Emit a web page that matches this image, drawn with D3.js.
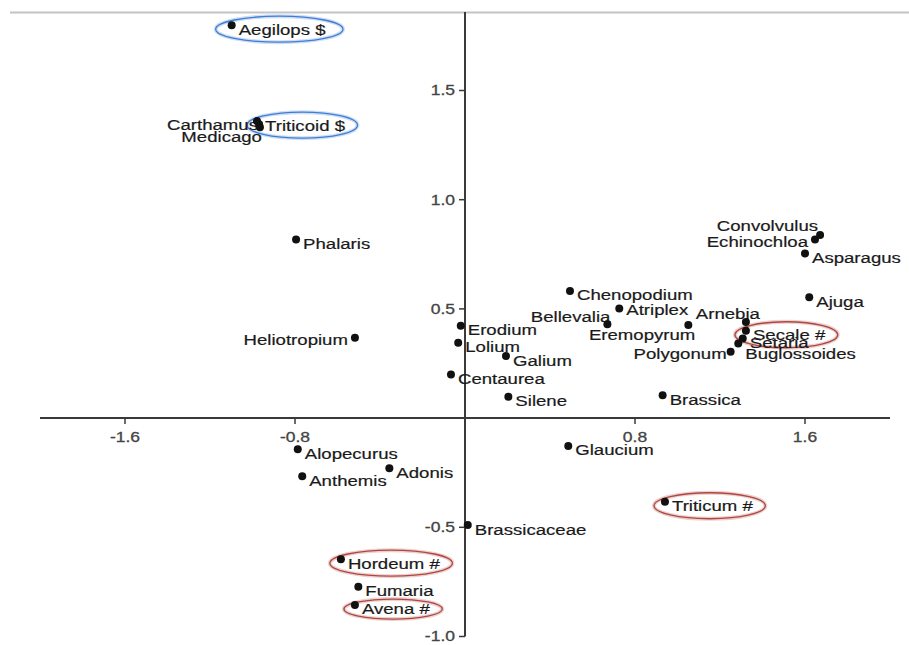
<!DOCTYPE html>
<html>
<head>
<meta charset="utf-8">
<script src="https://cdn.jsdelivr.net/npm/d3@7"></script>
<style>
  body { margin: 0; background: #fff; }
  svg { display: block; font-family: "Liberation Sans", Arial, sans-serif; }
</style>
</head>
<body>
<div id="vis"></div>
<script>
const FRAME_WIDTH = 909;
const FRAME_HEIGHT = 645;

// taxa names and their ordination scores (axis 1, axis 2)
const names = ["Aegilops $", "Carthamus", "Triticoid $", "Medicago", "Phalaris", "Heliotropium",
  "Erodium", "Lolium", "Galium", "Centaurea", "Silene", "Chenopodium", "Atriplex", "Bellevalia",
  "Eremopyrum", "Arnebia", "Secale #", "Setaria", "Buglossoides", "Polygonum", "Convolvulus",
  "Echinochloa", "Asparagus", "Ajuga", "Brassica", "Glaucium", "Triticum #", "Brassicaceae",
  "Hordeum #", "Fumaria", "Avena #", "Alopecurus", "Anthemis", "Adonis"];
const axis1 = [-1.098, -0.979, -0.969, -0.965, -0.795, -0.518,
  -0.020, -0.032, 0.193, -0.066, 0.204, 0.494, 0.726, 0.670,
  1.051, 1.322, 1.322, 1.307, 1.286, 1.250, 1.671,
  1.647, 1.600, 1.620, 0.930, 0.486, 0.941, 0.013,
  -0.584, -0.502, -0.518, -0.787, -0.766, -0.356];
const axis2 = [1.799, 1.360, 1.346, 1.332, 0.818, 0.368,
  0.423, 0.345, 0.284, 0.200, 0.098, 0.582, 0.502, 0.430,
  0.426, 0.440, 0.400, 0.365, 0.342, 0.304, 0.838,
  0.818, 0.754, 0.553, 0.105, -0.128, -0.383, -0.490,
  -0.646, -0.772, -0.856, -0.143, -0.266, -0.230];

const xTicks = [-1.6, -0.8, 0.8, 1.6];
const yTicks = [1.5, 1.0, 0.5, -0.5, -1.0];

// label placement (layout only)
const labelPos = {
  "Carthamus": {anchor: "end", dx: 1, dy: 3},
  "Medicago": {anchor: "end", dx: 2, dy: 9},
  "Triticoid $": {anchor: "start", dx: 6, dy: 1},
  "Heliotropium": {anchor: "end", dx: -7, dy: 2},
  "Convolvulus": {anchor: "end", dx: -2, dy: -10},
  "Echinochloa": {anchor: "end", dx: -7, dy: 2},
  "Bellevalia": {anchor: "end", dx: 3, dy: -8},
  "Eremopyrum": {anchor: "end", dx: 7, dy: 10},
  "Arnebia": {anchor: "end", dx: 14, dy: -8},
  "Polygonum": {anchor: "end", dx: -4, dy: 2},
  "Buglossoides": {anchor: "start", dx: 7, dy: 10},
  "Atriplex": {anchor: "start", dx: 7, dy: 1}
};
const BLUE = "#3f7dd4", RED = "#b0463f";

const data = names.map((n, i) => ({name: n, x: axis1[i], y: axis2[i]}));

const svg = d3.select("#vis").append("svg")
    .attr("width", FRAME_WIDTH)
    .attr("height", FRAME_HEIGHT);

const X_SCALE = d3.scaleLinear().domain([-2, 2]).range([40, 890]);
const Y_SCALE = d3.scaleLinear().domain([-1, 1.5]).range([636.5, 90.5]);

// tick labels use a plain hyphen like the original
const fmt = (t) => t.toFixed(1);

// grey rule at the top
svg.append("line")
    .attr("x1", 10).attr("x2", FRAME_WIDTH)
    .attr("y1", 12.5).attr("y2", 12.5)
    .attr("stroke", "#c4c4c4").attr("stroke-width", 2);

const AXIS_COL = "#3a3a3a";
const x0 = X_SCALE(0), y0 = Y_SCALE(0);

// x axis through the origin
svg.append("line")
    .attr("x1", 40).attr("x2", 890).attr("y1", y0).attr("y2", y0)
    .attr("stroke", AXIS_COL).attr("stroke-width", 2);
// y axis through the origin
svg.append("line")
    .attr("x1", x0).attr("x2", x0).attr("y1", 12).attr("y2", Y_SCALE(-1))
    .attr("stroke", AXIS_COL).attr("stroke-width", 2);

xTicks.forEach(t => {
  svg.append("line")
      .attr("x1", X_SCALE(t)).attr("x2", X_SCALE(t))
      .attr("y1", y0).attr("y2", y0 + 6)
      .attr("stroke", AXIS_COL).attr("stroke-width", 1.5);
  svg.append("text")
      .attr("transform", "translate(" + X_SCALE(t) + "," + (y0 + 19) + ") scale(1.25,1)")
      .attr("text-anchor", "middle").attr("dy", "0.35em")
      .attr("font-size", "14px").attr("fill", "#444")
      .attr("stroke", "#444").attr("stroke-width", 0.3)
      .text(fmt(t));
});

yTicks.forEach(t => {
  svg.append("line")
      .attr("x1", x0 - 6).attr("x2", x0)
      .attr("y1", Y_SCALE(t)).attr("y2", Y_SCALE(t))
      .attr("stroke", AXIS_COL).attr("stroke-width", 1.5);
  svg.append("text")
      .attr("transform", "translate(" + (x0 - 10) + "," + Y_SCALE(t) + ") scale(1.25,1)")
      .attr("text-anchor", "end").attr("dy", "0.35em")
      .attr("font-size", "14px").attr("fill", "#444")
      .attr("stroke", "#444").attr("stroke-width", 0.3)
      .text(fmt(t));
});

const ellipseLayer = svg.append("g");
const labelLayer = svg.append("g");

// labels
const labels = labelLayer.selectAll("g.lab")
    .data(data)
    .enter()
    .append("g")
      .attr("class", "lab")
      .attr("transform", d => {
        const p = labelPos[d.name] || {dx: 7, dy: 4};
        return "translate(" + (X_SCALE(d.x) + p.dx) + "," + (Y_SCALE(d.y) + p.dy) + ")";
      });

labels.append("text")
    .attr("transform", "scale(1.2,1)")
    .attr("text-anchor", d => (labelPos[d.name] || {anchor: "start"}).anchor)
    .attr("dy", "0.35em")
    .attr("font-size", "15.5px")
    .attr("fill", "#1a1a1a")
    .attr("stroke", "#1a1a1a").attr("stroke-width", 0.2)
    .text(d => d.name);

// ellipses round the marked taxa ($ blue, # red)
labels.each(function(d) {
  const mark = d.name.slice(-1);
  if (mark !== "$" && mark !== "#") return;
  const b = this.getBBox();
  const p = labelPos[d.name] || {dx: 7, dy: 4};
  const cx = X_SCALE(d.x) + p.dx + b.x + b.width / 2 - 3;
  const cy = Y_SCALE(d.y) + p.dy;
  const rx = b.width / 2 + (d.name === "Aegilops $" ? 20 : 15);
  const ry = d.name === "Avena #" ? 10 : 13;
  const col = mark === "$" ? BLUE : RED;
  ellipseLayer.append("ellipse")
      .attr("cx", cx).attr("cy", cy).attr("rx", rx).attr("ry", ry)
      .attr("fill", "none").attr("stroke", col)
      .attr("stroke-opacity", 0.25).attr("stroke-width", 4);
  ellipseLayer.append("ellipse")
      .attr("cx", cx).attr("cy", cy).attr("rx", rx).attr("ry", ry)
      .attr("fill", "none").attr("stroke", col).attr("stroke-width", 1.3);
});

// points
svg.append("g").selectAll("circle")
    .data(data)
    .enter()
    .append("circle")
      .attr("cx", d => X_SCALE(d.x))
      .attr("cy", d => Y_SCALE(d.y))
      .attr("r", 4)
      .attr("fill", "#111");
</script>
</body>
</html>
